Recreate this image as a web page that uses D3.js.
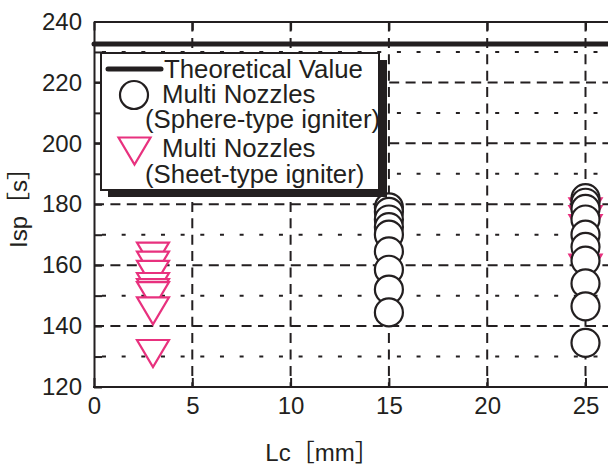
<!DOCTYPE html>
<html lang="en">
<head>
  <meta charset="UTF-8">
  <title>Isp vs Lc</title>
  <script src="https://d3js.org/d3.v7.min.js"></script>
  <style>
    body {
      margin: 0;
      background: #fff;
      font-family: "Liberation Sans", Arial, "Noto Sans CJK JP", sans-serif;
    }
    svg { display: block; overflow: hidden; }
    .tick text { font-size: 24px; fill: #231f20; }
  </style>
</head>
<body>
  <svg width="608" height="467"></svg>
  <script>
    // Data
    const yTicks = [120, 130, 140, 150, 160, 170, 180, 190, 200, 210, 220, 230, 240];
    const xTicks = [0, 5, 10, 15, 20, 25];
    const theoretical = 232.6;

    // Multi nozzles, sphere-type igniter (circles)
    const sphereLc  = [15, 15, 15, 15, 15, 15, 15, 15, 15,
                       25, 25, 25, 25, 25, 25, 25, 25, 25, 25];
    const sphereIsp = [179, 177.5, 175, 172.5, 170, 164.5, 158.5, 152, 144.5,
                       182, 180.5, 178.5, 175, 170, 166, 161.5, 154, 146.5, 134.5];

    // Multi nozzles, sheet-type igniter (triangles)
    const sheetLc  = [3, 3, 3, 3, 3, 3, 3, 3, 25, 25, 25, 25];
    const sheetIsp = [163, 160, 157, 153, 151, 150, 145, 131, 177.5, 175, 172, 159];

    const ink = "#231f20", pink = "#e8317e";

    const x = d3.scaleLinear().domain([0, 30]).range([94, 94 + 30 * 19.66]);
    const y = d3.scaleLinear().domain([120, 240]).range([387, 21.5]);

    const svg = d3.select("svg");

    // grid
    const grid = svg.append("g");
    grid.selectAll(".hmaj")
        .data(yTicks.filter(v => v % 20 === 0 && v > 120 && v < 240))
        .enter().append("line")
        .attr("x1", x(0)).attr("x2", x(30))
        .attr("y1", d => y(d)).attr("y2", d => y(d))
        .attr("stroke", ink).attr("stroke-width", 2)
        .attr("stroke-dasharray", "10,6.4");
    grid.selectAll(".hmin")
        .data(yTicks.filter(v => v % 20 !== 0))
        .enter().append("line")
        .attr("x1", x(0)).attr("x2", x(30))
        .attr("y1", d => y(d)).attr("y2", d => y(d))
        .attr("stroke", ink).attr("stroke-width", 2)
        .attr("stroke-dasharray", "4,15.66")
        .attr("stroke-dashoffset", -8);
    grid.selectAll(".vmaj")
        .data(xTicks.filter(v => v > 0))
        .enter().append("line")
        .attr("x1", d => x(d)).attr("x2", d => x(d))
        .attr("y1", y(240)).attr("y2", y(120))
        .attr("stroke", ink).attr("stroke-width", 2)
        .attr("stroke-dasharray", "10,6.4");

    // theoretical value
    svg.append("line")
       .attr("x1", x(0)).attr("x2", x(30))
       .attr("y1", y(theoretical)).attr("y2", y(theoretical))
       .attr("stroke", ink).attr("stroke-width", 5)
       .attr("stroke-linecap", "round");

    // triangles (pointing down), drawn from top to bottom
    const tri = (w, h) => `M${-w / 2},${-h / 2}L${w / 2},${-h / 2}L0,${h / 2}Z`;
    const sheet = sheetLc.map((lc, i) => ({ lc, isp: sheetIsp[i] }));
    svg.append("g").selectAll("path")
       .data(sheet)
       .enter().append("path")
       .attr("d", tri(32, 27))
       .attr("transform", d => `translate(${x(d.lc)},${y(d.isp)})`)
       .attr("fill", "#fff").attr("stroke", pink).attr("stroke-width", 2.2);

    const sphere = sphereLc.map((lc, i) => ({ lc, isp: sphereIsp[i] }));
    svg.append("g").selectAll("circle")
       .data(sphere)
       .enter().append("circle")
       .attr("cx", d => x(d.lc)).attr("cy", d => y(d.isp))
       .attr("r", 14)
       .attr("fill", "#fff").attr("stroke", ink).attr("stroke-width", 2.2);

    // axes
    const fmtY = d => (d % 20 === 0 ? d : "");
    const leftAxis = svg.append("g")
        .attr("transform", `translate(${x(0)},0)`)
        .call(d3.axisLeft(y).tickValues(yTicks).tickFormat(fmtY)
              .tickSizeInner(-8).tickSizeOuter(0).tickPadding(12));
    const bottomAxis = svg.append("g")
        .attr("transform", `translate(0,${y(120)})`)
        .call(d3.axisBottom(x).tickValues(xTicks).tickFormat(d3.format("d"))
              .tickSizeInner(-9).tickSizeOuter(0).tickPadding(10));
    const topAxis = svg.append("g")
        .attr("transform", `translate(0,${y(240)})`)
        .call(d3.axisTop(x).tickValues(xTicks).tickFormat("")
              .tickSizeInner(-9).tickSizeOuter(0));
    [leftAxis, bottomAxis, topAxis].forEach(g => {
      g.attr("font-family", null).attr("font-size", null);
      g.selectAll("path, line").attr("stroke", ink).attr("stroke-width", 2);
    });
    bottomAxis.select(".domain").attr("d", `M${x(0) - 1},0H${x(30)}`);

    // axis titles
    svg.append("text")
       .attr("x", 322).attr("y", 461)
       .attr("text-anchor", "middle")
       .style("font-size", "24px").attr("fill", ink)
       .text("Lc［mm］");
    svg.append("text")
       .attr("transform", "translate(27,202) rotate(-90)")
       .attr("text-anchor", "middle")
       .style("font-size", "24px").attr("fill", ink)
       .text("Isp［s］");

    // legend with drop shadow
    const legend = svg.append("g").attr("transform", "translate(101,53)");
    legend.append("rect")
          .attr("x", 7).attr("y", 7).attr("width", 279).attr("height", 137)
          .attr("fill", ink);
    legend.append("rect")
          .attr("width", 278).attr("height", 137)
          .attr("fill", "#fff").attr("stroke", ink).attr("stroke-width", 2);
    legend.append("line")
          .attr("x1", 7).attr("x2", 60).attr("y1", 16).attr("y2", 16)
          .attr("stroke", ink).attr("stroke-width", 5).attr("stroke-linecap", "round");
    legend.append("circle")
          .attr("cx", 33).attr("cy", 42).attr("r", 14)
          .attr("fill", "#fff").attr("stroke", ink).attr("stroke-width", 2.2);
    legend.append("path")
          .attr("d", tri(32, 27))
          .attr("transform", "translate(33.5,98)")
          .attr("fill", "#fff").attr("stroke", pink).attr("stroke-width", 2.2);

    const rows = [
      { tx: 63, ty: 25, t: "Theoretical Value" },
      { tx: 61, ty: 50, t: "Multi Nozzles" },
      { tx: 44, ty: 75, t: "(Sphere-type igniter)" },
      { tx: 61, ty: 104, t: "Multi Nozzles" },
      { tx: 44, ty: 130, t: "(Sheet-type igniter)" }
    ];
    legend.selectAll("text.lab")
          .data(rows)
          .enter().append("text")
          .attr("x", d => d.tx).attr("y", d => d.ty)
          .style("font-size", "25.8px").attr("fill", ink)
          .text(d => d.t);
  </script>
</body>
</html>
